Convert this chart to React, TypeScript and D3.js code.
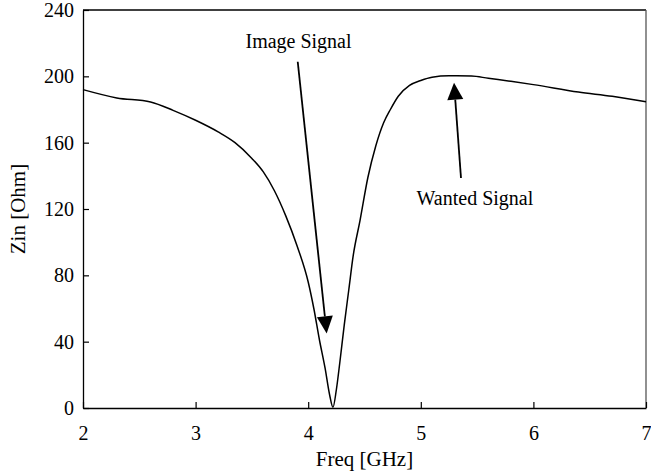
import React, { useEffect, useRef } from 'react';
import * as d3 from 'd3';

// frequency points (GHz) and input impedance (Ohm)
const freq = [2.0, 2.3, 2.6, 2.8, 3.0, 3.2, 3.35, 3.5, 3.6, 3.7, 3.8, 3.9, 4.0, 4.05, 4.1, 4.15, 4.19, 4.22, 4.25, 4.28, 4.32, 4.36, 4.4, 4.46, 4.53, 4.6, 4.67, 4.73, 4.8, 4.9, 5.0, 5.1, 5.25, 5.45, 5.6, 5.8, 6.0, 6.4, 6.7, 7.0];
const zin = [192, 187, 184.5, 179.5, 173.5, 166.5, 160, 150.5, 142.5, 131, 116, 98, 76, 60, 41, 24, 8, 0.5, 11, 27, 50, 71, 92, 113, 139, 158, 172, 180, 188, 194.5, 197.5, 199.5, 200.3, 200.2, 198.8, 197, 195, 190.5, 188, 184.7];

const xTicks = [2, 3, 4, 5, 6, 7];
const yTicks = [0, 40, 80, 120, 160, 200, 240];

// annotations: label, text anchor point, arrow start, arrow tip (data units)
const notes = [
  { label: 'Image Signal', text: [3.914, 217], from: [3.907, 208.8], to: [4.164, 45] },
  { label: 'Wanted Signal', text: [5.481, 122.4], from: [5.357, 138.7], to: [5.295, 196.2] },
];

const FONT = '"Liberation Serif", "Times New Roman", serif';

function App() {
  const ref = useRef<SVGSVGElement>(null);

  useEffect(() => {
    const svg = d3.select(ref.current);
    svg.selectAll('*').remove();

    const margin = { top: 10, right: 5, bottom: 66, left: 83 };
    const W = 651;
    const H = 474;
    const width = W - margin.left - margin.right;
    const height = H - margin.top - margin.bottom;

    const x = d3.scaleLinear().domain([2, 7]).range([margin.left, margin.left + width]);
    const y = d3.scaleLinear().domain([0, 240]).range([margin.top + height, margin.top]);

    // frame
    svg.append('line')
      .attr('x1', x(2)).attr('x2', x(7)).attr('y1', y(240)).attr('y2', y(240))
      .attr('stroke', '#000').attr('stroke-width', 1.3);
    svg.append('line')
      .attr('x1', x(7)).attr('x2', x(7)).attr('y1', y(240)).attr('y2', y(0))
      .attr('stroke', '#555').attr('stroke-width', 1.3);

    // x axis, ticks pointing inward
    const xAxis = svg.append('g')
      .attr('transform', `translate(0,${y(0)})`)
      .call(d3.axisBottom(x).tickValues(xTicks).tickSizeInner(-6).tickSizeOuter(0).tickPadding(18).tickFormat(d3.format('d')));
    xAxis.select('.domain').attr('stroke', '#000').attr('stroke-width', 1.3);
    xAxis.selectAll('.tick line').attr('stroke', '#000').attr('stroke-width', 1.2);
    xAxis.selectAll('text').attr('font-family', FONT).attr('font-size', 20).attr('fill', '#000');

    // y axis
    const yAxis = svg.append('g')
      .attr('transform', `translate(${x(2)},0)`)
      .call(d3.axisLeft(y).tickValues(yTicks).tickSizeInner(-6).tickSizeOuter(0).tickPadding(9).tickFormat(d3.format('d')));
    yAxis.select('.domain').attr('stroke', '#000').attr('stroke-width', 1.3);
    yAxis.selectAll('.tick line').attr('stroke', '#000').attr('stroke-width', 1.2);
    yAxis.selectAll('text').attr('font-family', FONT).attr('font-size', 20).attr('fill', '#000');

    // axis titles
    svg.append('text')
      .attr('x', x(4.5))
      .attr('y', 466)
      .attr('text-anchor', 'middle')
      .attr('font-family', FONT)
      .attr('font-size', 21)
      .text('Freq [GHz]');

    svg.append('text')
      .attr('transform', `translate(25,${y(120)}) rotate(-90)`)
      .attr('text-anchor', 'middle')
      .attr('font-family', FONT)
      .attr('font-size', 21)
      .text('Zin [Ohm]');

    // curve
    const line = d3.line<number>()
      .x((d, i) => x(freq[i]))
      .y((d) => y(d))
      .curve(d3.curveMonotoneX);

    svg.append('path')
      .datum(zin)
      .attr('d', line)
      .attr('fill', 'none')
      .attr('stroke', '#000')
      .attr('stroke-width', 1.5);

    // annotation arrows
    notes.forEach((n) => {
      const x0 = x(n.from[0]);
      const y0 = y(n.from[1]);
      const x1 = x(n.to[0]);
      const y1 = y(n.to[1]);
      const len = Math.hypot(x1 - x0, y1 - y0);
      const ux = (x1 - x0) / len;
      const uy = (y1 - y0) / len;
      const headLen = 17;
      const half = 8;
      const bx = x1 - ux * headLen;
      const by = y1 - uy * headLen;

      svg.append('line')
        .attr('x1', x0).attr('y1', y0).attr('x2', bx).attr('y2', by)
        .attr('stroke', '#000').attr('stroke-width', 1.8);

      svg.append('path')
        .attr('d', `M${x1},${y1}L${bx - uy * half},${by + ux * half}L${bx + uy * half},${by - ux * half}Z`)
        .attr('fill', '#000');

      svg.append('text')
        .attr('x', x(n.text[0]))
        .attr('y', y(n.text[1]))
        .attr('text-anchor', 'middle')
        .attr('font-family', FONT)
        .attr('font-size', 20)
        .text(n.label);
    });
  }, []);

  return (
    <svg
      ref={ref}
      width={651}
      height={474}
      style={{ position: 'absolute', left: 0, top: 0, background: '#fff' }}
    />
  );
}

export default App;
